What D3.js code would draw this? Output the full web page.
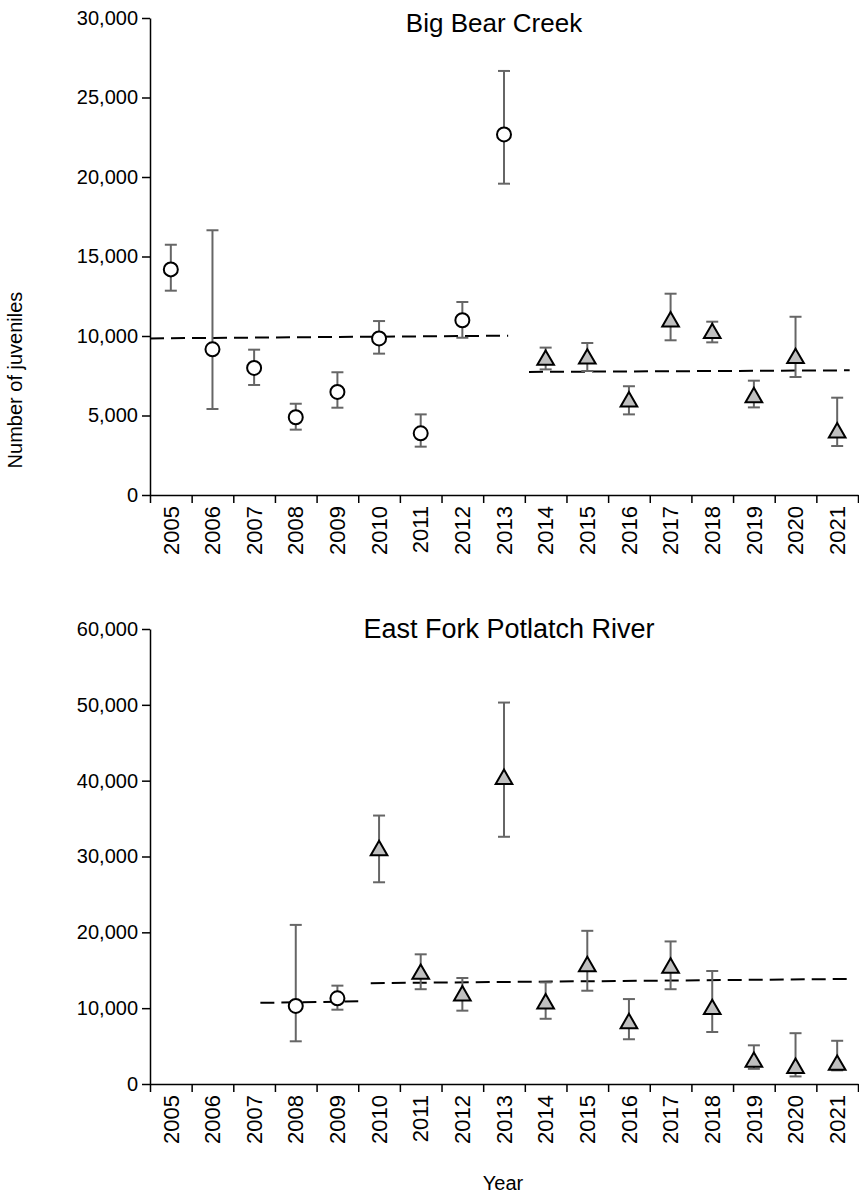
<!DOCTYPE html>
<html>
<head>
<meta charset="utf-8">
<script src="https://cdn.jsdelivr.net/npm/d3@7"></script>
<style>
  html, body { margin: 0; padding: 0; background: #fff; }
  svg { display: block; font-family: "Liberation Sans", Arial, sans-serif; }
</style>
</head>
<body>
<svg id="chart" width="859" height="1200"></svg>
<script>
// Year categories shown on both x axes
const years = ["2005","2006","2007","2008","2009","2010","2011","2012","2013",
               "2014","2015","2016","2017","2018","2019","2020","2021"];

// Big Bear Creek — open circles (2005–2013)
const bbCircleYears = [2005, 2006, 2007, 2008, 2009, 2010, 2011, 2012, 2013];
const bbCircleEst   = [14190, 9160, 7990, 4890, 6480, 9850, 3880, 10990, 22680];
const bbCircleLow   = [12850, 5410, 6920, 4110, 5490, 8890, 3040, 9890, 19580];
const bbCircleHigh  = [15740, 16650, 9140, 5740, 7720, 10940, 5070, 12140, 26670];

// Big Bear Creek — grey triangles (2014–2021)
const bbTriYears = [2014, 2015, 2016, 2017, 2018, 2019, 2020, 2021];
const bbTriEst   = [8490, 8570, 5870, 10900, 10170, 6140, 8600, 3920];
const bbTriLow   = [7900, 7800, 5070, 9730, 9600, 5510, 7420, 3080];
const bbTriHigh  = [9270, 9560, 6840, 12660, 10900, 7190, 11210, 6120];

// Big Bear Creek — dashed mean lines (start/end year, start/end value)
const bbTrendX = [[2004.5, 2013.1], [2013.6, 2021.3]];
const bbTrendY = [[9850, 10020], [7740, 7840]];

// East Fork Potlatch River — open circles (2008–2009)
const efCircleYears = [2008, 2009];
const efCircleEst   = [10290, 11300];
const efCircleLow   = [5630, 9800];
const efCircleHigh  = [20980, 12970];

// East Fork Potlatch River — grey triangles (2010–2021)
const efTriYears = [2010, 2011, 2012, 2013, 2014, 2015, 2016, 2017, 2018, 2019, 2020, 2021];
const efTriEst   = [30800, 14500, 11650, 40200, 10600, 15500, 8000, 15300, 9850, 2900, 2100, 2500];
const efTriLow   = [26600, 12500, 9670, 32600, 8600, 12300, 5900, 12500, 6860, 2000, 1000, 1800];
const efTriHigh  = [35400, 17100, 13980, 50300, 13400, 20200, 11200, 18800, 14900, 5100, 6700, 5700];

// East Fork Potlatch River — dashed mean lines
const efTrendX = [[2007.15, 2009.5], [2009.8, 2021.3]];
const efTrendY = [[10700, 10900], [13300, 13850]];

// Y-axis tick values
const bbTicks = [0, 5000, 10000, 15000, 20000, 25000, 30000];
const efTicks = [0, 10000, 20000, 30000, 40000, 50000, 60000];

const svg = d3.select("#chart");
const TICK_FONT = 20, XLAB_FONT = 22, AXIS_FONT = 20;
const left = 150, right = 858;

const zip = (ys, est, lo, hi) => ys.map((y, i) => ({ year: y, est: est[i], lo: lo[i], hi: hi[i] }));

function panel(cfg) {
  const g = svg.append("g");
  const xBand = d3.scaleBand().domain(years).range([left, right]).padding(0);
  const xLin = d3.scaleLinear().domain([2004.5, 2021.5]).range([left, right]);
  const y = d3.scaleLinear().domain([0, cfg.max]).range([cfg.bottom, cfg.top]);

  // y axis
  const ya = g.append("g").attr("transform", `translate(${left},0)`)
    .call(d3.axisLeft(y).tickValues(cfg.ticks).tickFormat(d3.format(",")).tickSize(8).tickSizeOuter(0).tickPadding(4));
  ya.select(".domain").attr("stroke", "#000").attr("stroke-width", 1.5);
  ya.selectAll(".tick line").attr("stroke", "#000").attr("stroke-width", 1.5);
  ya.selectAll("text").attr("font-size", TICK_FONT).attr("fill", "#000");

  // x axis: ticks at category boundaries
  const xa = g.append("g").attr("transform", `translate(0,${cfg.bottom})`)
    .call(d3.axisBottom(xLin).tickValues(d3.range(2004.5, 2021.6, 1)).tickFormat("").tickSize(8).tickSizeOuter(0));
  xa.select(".domain").attr("stroke", "#000").attr("stroke-width", 1.5);
  xa.selectAll(".tick line").attr("stroke", "#000").attr("stroke-width", 1.5);

  // x labels, rotated
  const xl = g.append("g").attr("transform", `translate(0,${cfg.bottom})`)
    .call(d3.axisBottom(xBand).tickSize(0));
  xl.select(".domain").remove();
  xl.selectAll("text")
    .attr("font-size", XLAB_FONT).attr("fill", "#000")
    .attr("transform", "rotate(-90)")
    .attr("x", -11).attr("y", 0).attr("dy", "0.35em")
    .style("text-anchor", "end");

  // title
  g.append("text").attr("x", cfg.titleX).attr("y", cfg.titleY)
    .attr("text-anchor", "middle").attr("font-size", cfg.titleFont).attr("fill", "#000")
    .text(cfg.title);

  // dashed mean lines
  const line = d3.line().x(d => xLin(d[0])).y(d => y(d[1]));
  cfg.trendX.forEach((xs, i) => {
    g.append("path")
      .attr("d", line(xs.map((xv, j) => [xv, cfg.trendY[i][j]])))
      .attr("fill", "none").attr("stroke", "#000").attr("stroke-width", 2)
      .attr("stroke-dasharray", "14,7");
  });

  const pts = cfg.circles.concat(cfg.tris);

  // error bars
  const eb = g.append("g").attr("stroke", "#666").attr("stroke-width", 2).attr("fill", "none");
  pts.forEach(d => {
    const cx = xLin(d.year);
    eb.append("line").attr("x1", cx).attr("x2", cx).attr("y1", y(d.lo)).attr("y2", y(d.hi));
    eb.append("line").attr("x1", cx - 6).attr("x2", cx + 6).attr("y1", y(d.lo)).attr("y2", y(d.lo));
    eb.append("line").attr("x1", cx - 6).attr("x2", cx + 6).attr("y1", y(d.hi)).attr("y2", y(d.hi));
  });

  // circles
  g.selectAll(null).data(cfg.circles).enter().append("circle")
    .attr("cx", d => xLin(d.year)).attr("cy", d => y(d.est)).attr("r", 7)
    .attr("fill", "#fff").attr("stroke", "#000").attr("stroke-width", 2);

  // triangles
  const tri = d3.symbol().type(d3.symbolTriangle).size(120);
  g.selectAll(null).data(cfg.tris).enter().append("path")
    .attr("d", tri)
    .attr("transform", d => `translate(${xLin(d.year)},${y(d.est)})`)
    .attr("fill", "#bfbfbf").attr("stroke", "#000").attr("stroke-width", 2);
}

panel({
  title: "Big Bear Creek", titleX: 494, titleY: 32, titleFont: 26,
  top: 18, bottom: 495, max: 30000, ticks: bbTicks,
  circles: zip(bbCircleYears, bbCircleEst, bbCircleLow, bbCircleHigh),
  tris: zip(bbTriYears, bbTriEst, bbTriLow, bbTriHigh),
  trendX: bbTrendX, trendY: bbTrendY
});

panel({
  title: "East Fork Potlatch River", titleX: 509, titleY: 638, titleFont: 27,
  top: 629, bottom: 1084, max: 60000, ticks: efTicks,
  circles: zip(efCircleYears, efCircleEst, efCircleLow, efCircleHigh),
  tris: zip(efTriYears, efTriEst, efTriLow, efTriHigh),
  trendX: efTrendX, trendY: efTrendY
});

// shared axis titles
svg.append("text").attr("transform", "translate(22,380) rotate(-90)")
  .attr("text-anchor", "middle").attr("font-size", AXIS_FONT).attr("fill", "#000")
  .text("Number of juveniles");
svg.append("text").attr("x", 503).attr("y", 1190)
  .attr("text-anchor", "middle").attr("font-size", AXIS_FONT).attr("fill", "#000")
  .text("Year");
</script>
</body>
</html>
